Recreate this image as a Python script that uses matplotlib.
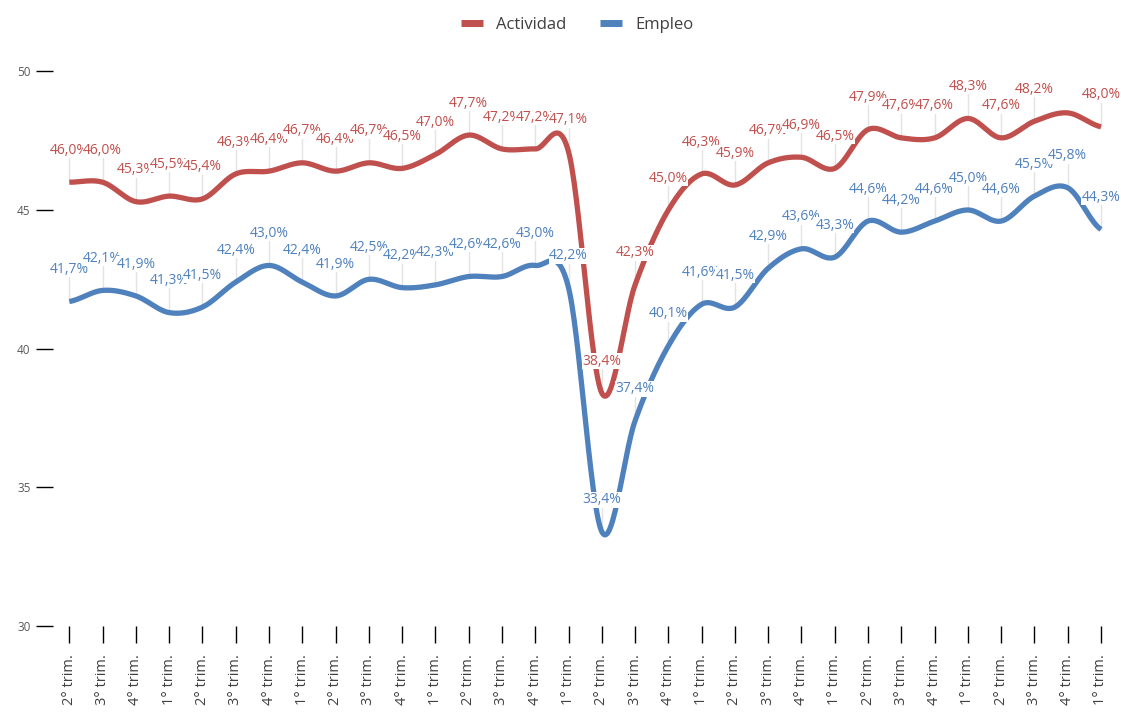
import numpy as np
import matplotlib
matplotlib.use("Agg")
import matplotlib.pyplot as plt

plt.rcParams['font.family'] = ['Open Sans', 'DejaVu Sans']

trimestres = ['2° trim.', '3° trim.', '4° trim.', '1° trim.'] * 8
trimestres = trimestres[:32]

actividad = [46.0, 46.0, 45.3, 45.5, 45.4, 46.3, 46.4, 46.7, 46.4, 46.7, 46.5,
             47.0, 47.7, 47.2, 47.2, 47.1, 38.4, 42.3, 45.0, 46.3, 45.9, 46.7,
             46.9, 46.5, 47.9, 47.6, 47.6, 48.3, 47.6, 48.2, 48.5, 48.0]
empleo = [41.7, 42.1, 41.9, 41.3, 41.5, 42.4, 43.0, 42.4, 41.9, 42.5, 42.2,
          42.3, 42.6, 42.6, 43.0, 42.2, 33.4, 37.4, 40.1, 41.6, 41.5, 42.9,
          43.6, 43.3, 44.6, 44.2, 44.6, 45.0, 44.6, 45.5, 45.8, 44.3]
# puntos sin etiqueta visible en el original
sin_etiqueta_act = [30]

ROJO = '#C0504D'
AZUL = '#4F81BD'


def suavizar(y, n=30):
    # curva tipo Catmull-Rom (como la linea suavizada de Excel)
    y = np.asarray(y, dtype=float)
    p = np.concatenate([[y[0]], y, [y[-1]]])
    xs, ys = [], []
    for i in range(len(y) - 1):
        p0, p1, p2, p3 = p[i], p[i + 1], p[i + 2], p[i + 3]
        t = np.linspace(0, 1, n, endpoint=False)
        m1 = (p2 - p0) / 2
        m2 = (p3 - p1) / 2
        h00 = 2*t**3 - 3*t**2 + 1
        h10 = t**3 - 2*t**2 + t
        h01 = -2*t**3 + 3*t**2
        h11 = t**3 - t**2
        ys.append(h00*p1 + h10*m1 + h01*p2 + h11*m2)
        xs.append(i + t)
    xs.append([len(y) - 1])
    ys.append([y[-1]])
    return np.concatenate(xs), np.concatenate(ys)


fig = plt.figure(figsize=(11.21, 7.13), dpi=100)
ax = fig.add_axes([0.047, 0.122, 0.950, 0.778])

x = np.arange(len(actividad))
off = 1.15

for serie, color, nombre, omitir in [(actividad, ROJO, 'Actividad', sin_etiqueta_act),
                                     (empleo, AZUL, 'Empleo', [])]:
    xs, ys = suavizar(serie)
    ax.plot(xs, ys, color=color, lw=3.8, label=nombre, zorder=3,
            solid_capstyle='butt')
    for i, v in enumerate(serie):
        if i in omitir:
            continue
        ax.plot([i, i], [v, v + off - 0.2], color='#e3e3e3', lw=1, zorder=1)
        ax.text(i, v + off, f'{v:.1f}%'.replace('.', ','), color=color,
                fontsize=10, ha='center', va='center', zorder=4 + i * 0.01,
                bbox=dict(facecolor='white', edgecolor='none', pad=0.2),
                clip_on=False)

ax.set_xlim(-0.5, 31.5)
ax.set_ylim(30, 50)
ax.set_yticks([30, 35, 40, 45, 50])
ax.set_xticks(x)
ax.set_xticklabels(trimestres, rotation=90, fontsize=10.5, color='#404040')
for s in ax.spines.values():
    s.set_visible(False)
ax.tick_params(axis='y', length=12, width=1, labelsize=8.5, labelcolor='#595959',
               pad=4)
ax.tick_params(axis='x', length=12, width=1, pad=8)

leg = fig.legend(loc='upper center', bbox_to_anchor=(0.515, 0.997), ncol=2,
                 frameon=False, fontsize=12, handlelength=1.3, columnspacing=2.0)
for h in leg.get_lines():
    h.set_linewidth(5)
for t in leg.get_texts():
    t.set_color('#404040')

fig.savefig('out.png', dpi=100)
